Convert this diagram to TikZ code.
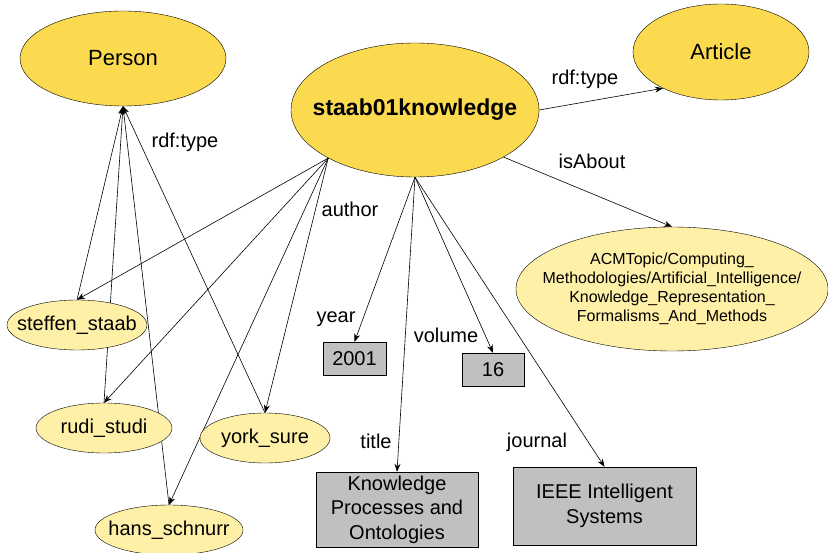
\documentclass[tikz,border=0pt]{standalone}
\usepackage{fontspec}
\setmainfont{Liberation Sans}
\usetikzlibrary{shapes.geometric,arrows.meta,backgrounds}

\definecolor{classyellow}{RGB}{251,218,80}
\definecolor{instyellow}{RGB}{255,240,168}
\definecolor{litgray}{RGB}{192,192,192}

\tikzset{
  classnode/.style={ellipse, draw=black, fill=classyellow, inner sep=0pt, font=\fontsize{22}{26}\selectfont},
  instnode/.style={ellipse, draw=black, fill=instyellow, inner sep=0pt, minimum height=50pt, font=\fontsize{20}{24}\selectfont},
  litnode/.style={rectangle, draw=black, fill=litgray, inner sep=0pt, align=center, font=\fontsize{20}{24.5}\selectfont},
  proplabel/.style={anchor=base, inner sep=0pt, font=\fontsize{20}{24}\selectfont},
  rel/.style={-{Stealth[length=8pt,width=6pt]}, line width=0.6pt}
}
\newcommand{\zw}[1]{\makebox[0pt]{#1}}

\begin{document}
\begin{tikzpicture}[x=1pt, y=-1pt]
\useasboundingbox (0,0) rectangle (828,553);

\draw
(123,58.5) node[classnode, minimum width=206pt, minimum height=95pt](person){\zw{Person}}
(721,52) node[classnode, minimum width=176pt, minimum height=96pt](article){\zw{Article}}
(415,110) node[classnode, minimum width=248pt, minimum height=134pt, font=\fontsize{23}{27}\bfseries](paper){\zw{staab01knowledge}}
(672,289) node[instnode, minimum width=312pt, minimum height=124pt, font=\fontsize{16}{19}\selectfont](topic){\zw{\begin{tabular}{@{}c@{}}ACMTopic/Computing\_\\ Methodologies/Artificial\_Intelligence/\\ Knowledge\_Representation\_\\ Formalisms\_And\_Methods\end{tabular}}};

\draw
(77,325) node[instnode, minimum width=140pt](steffen){\zw{steffen\_staab}}
(104,428) node[instnode, minimum width=136pt](rudi){\zw{rudi\_studi}}
(265,438) node[instnode, minimum width=130pt](york){\zw{york\_sure}}
(169,530) node[instnode, minimum width=148pt](hans){\zw{hans\_schnurr}};

\draw
(354.5,358.5) node[litnode, minimum width=63pt, minimum height=33pt](year){2001}
(493,369.5) node[litnode, minimum width=62pt, minimum height=33pt](volume){16}
(397,509.5) node[litnode, minimum width=162pt, minimum height=75pt](title){Knowledge\\ Processes and\\ Ontologies}
(604.5,506) node[litnode, minimum width=183pt, minimum height=78pt](journal){IEEE Intelligent\\ Systems};

% property names
\node[proplabel] (typeA) at (185,148) {rdf:type};
\node[proplabel] (typeB) at (585,85) {rdf:type};
\node[proplabel] (auth) at (350,217) {author};
\node[proplabel] (about) at (592,169) {isAbout};
\node[proplabel] (yr) at (336,323) {year};
\node[proplabel] (vol) at (446,343) {volume};
\node[proplabel] (ttl) at (376,449) {title};
\node[proplabel] (jrn) at (537,447) {journal};

\begin{scope}[on background layer]
\draw[rel] (steffen.north) -- (person.south);
\draw[rel] (rudi.north) -- (person.south);
\draw[rel] (hans.north) -- (person.south);
\draw[rel] (york.north) -- (person.south);

\draw[rel] (paper.209) -- (steffen.north);
\draw[rel] (paper.209) -- (rudi.north);
\draw[rel] (paper.209) -- (york.north);
\draw[rel] (paper.209) -- (hans.north);

\draw[rel] (paper.east) -- (article.212);
\draw[rel] (paper.332) -- (topic.north);

\draw[rel] (paper.south) -- (year.north);
\draw[rel] (paper.south) -- (volume.north);
\draw[rel] (paper.south) -- (title.north);
\draw[rel] (paper.south) -- (journal.north);
\end{scope}

\end{tikzpicture}
\end{document}
